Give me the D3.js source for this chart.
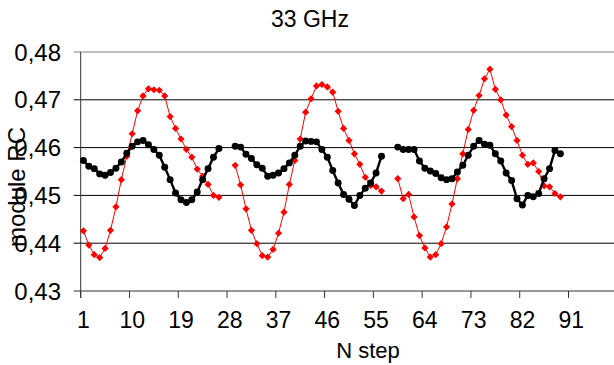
<!DOCTYPE html>
<html>
<head>
<meta charset="utf-8">
<script src="https://cdn.jsdelivr.net/npm/d3@7"></script>
<style>
    body { margin: 0; background: #fff; }
    text { font-family: "Liberation Sans", Arial, sans-serif; fill: #000; }
</style>
</head>
<body>
<script>
// Category labels shown under the x axis (every 9th step)
const X_TICK_LABELS = [1, 10, 19, 28, 37, 46, 55, 64, 73, 82, 91];
const Y_TICK_VALUES = [0.43, 0.44, 0.45, 0.46, 0.47, 0.48];
const CATEGORY_COUNT = 99;

// Red series (diamonds), steps 1..89, null = gap
const RED_VALUES = [
    0.4426, 0.4396, 0.4376, 0.4370, 0.4389, 0.4427, 0.4476, 0.4533, 0.4582, 0.4629,
    0.4677, 0.4708, 0.4723, 0.4721, 0.4720, 0.4708, 0.4665, 0.4640, 0.4618, 0.4596,
    0.4580, 0.4555, 0.4540, 0.4523, 0.4500, 0.4496, null, null,
    0.4563, 0.4522, 0.4472, 0.4427, 0.4399, 0.4374, 0.4371, 0.4387, 0.4421, 0.4465,
    0.4523, 0.4573, 0.4618, 0.4674, 0.4702, 0.4729, 0.4732, 0.4727, 0.4716, 0.4676,
    0.4640, 0.4615, 0.4587, 0.4565, 0.4538, 0.4521, 0.4518, 0.4509, null, null,
    0.4535, 0.4493, 0.4502, 0.4455, 0.4416, 0.4390, 0.4371, 0.4376, 0.4399, 0.4434,
    0.4482, 0.4535, 0.4587, 0.4638, 0.4678, 0.4709, 0.4744, 0.4764, 0.4722, 0.4700,
    0.4668, 0.4644, 0.4615, 0.4584, 0.4565, 0.4568, 0.4550, 0.4520, 0.4518, 0.4504,
    0.4497
];

// Black series (circles), steps 1..89, null = gap
const BLACK_VALUES = [
    0.4573, 0.4561, 0.4556, 0.4545, 0.4542, 0.4548, 0.4557, 0.4570, 0.4588, 0.4603,
    0.4612, 0.4615, 0.4606, 0.4596, 0.4584, 0.4559, 0.4533, 0.4505, 0.4491, 0.4485,
    0.4491, 0.4507, 0.4533, 0.4556, 0.4580, 0.4598, null, null,
    0.4603, 0.4601, 0.4586, 0.4577, 0.4564, 0.4557, 0.4540, 0.4542, 0.4547, 0.4556,
    0.4568, 0.4584, 0.4603, 0.4614, 0.4613, 0.4612, 0.4596, 0.4580, 0.4552, 0.4526,
    0.4502, 0.4492, 0.4479, 0.4500, 0.4515, 0.4526, 0.4547, 0.4582, null, null,
    0.4601, 0.4596, 0.4596, 0.4596, 0.4572, 0.4557, 0.4551, 0.4546, 0.4537, 0.4533,
    0.4535, 0.4549, 0.4563, 0.4584, 0.4603, 0.4615, 0.4607, 0.4605, 0.4587, 0.4572,
    0.4547, 0.4531, 0.4493, 0.4480, 0.4500, 0.4497, 0.4504, 0.4535, 0.4556, 0.4594,
    0.4587
];

const WIDTH = 614;
const HEIGHT = 365;

const PLOT_LEFT = 80.7;
const STEP_WIDTH = 5.42;
const PLOT_TOP = 52;
const PLOT_BOTTOM = 291;
const TICK_SIZE = 7;

const svg = d3.select("body").append("svg")
    .attr("width", WIDTH)
    .attr("height", HEIGHT);

const categories = d3.range(1, CATEGORY_COUNT + 1);

// Excel style category axis: points sit in the middle of each category
const xScale = d3.scaleBand()
    .domain(categories)
    .range([PLOT_LEFT, PLOT_LEFT + CATEGORY_COUNT * STEP_WIDTH])
    .padding(0);

const yScale = d3.scaleLinear()
    .domain([0.43, 0.48])
    .range([PLOT_BOTTOM, PLOT_TOP]);

const xCenter = step => xScale(step) + xScale.bandwidth() / 2;
const formatY = v => d3.format(".2f")(v).replace(".", ",");

// Gridlines
svg.append("g")
    .selectAll("line")
    .data(Y_TICK_VALUES.filter(v => v > 0.43))
    .join("line")
    .attr("x1", PLOT_LEFT - TICK_SIZE)
    .attr("x2", WIDTH)
    .attr("y1", v => yScale(v))
    .attr("y2", v => yScale(v))
    .attr("stroke", v => v === 0.48 ? "#808080" : "#000")
    .attr("stroke-width", 1);

// Y axis
svg.append("line")
    .attr("x1", PLOT_LEFT).attr("x2", PLOT_LEFT)
    .attr("y1", PLOT_TOP).attr("y2", PLOT_BOTTOM + TICK_SIZE)
    .attr("stroke", "#333");

svg.append("g")
    .selectAll("text")
    .data(Y_TICK_VALUES)
    .join("text")
    .attr("x", 61)
    .attr("y", v => yScale(v) + 8.5)
    .attr("text-anchor", "end")
    .style("font-size", "24px")
    .text(formatY);

// X axis
svg.append("line")
    .attr("x1", PLOT_LEFT - TICK_SIZE).attr("x2", WIDTH)
    .attr("y1", PLOT_BOTTOM).attr("y2", PLOT_BOTTOM)
    .attr("stroke", "#333");

svg.append("g")
    .selectAll("line")
    .data(X_TICK_LABELS)
    .join("line")
    .attr("x1", d => xScale(d))
    .attr("x2", d => xScale(d))
    .attr("y1", PLOT_BOTTOM)
    .attr("y2", PLOT_BOTTOM + TICK_SIZE)
    .attr("stroke", "#333");

svg.append("g")
    .selectAll("text")
    .data(X_TICK_LABELS)
    .join("text")
    .attr("x", d => xCenter(d))
    .attr("y", 328)
    .attr("text-anchor", "middle")
    .style("font-size", "23px")
    .text(d => d);

// Series
function drawSeries(values, color, lineWidth, symbol, symbolSize) {
    const points = values.map((v, i) => ({ step: i + 1, value: v }));
    const line = d3.line()
        .defined(d => d.value !== null)
        .x(d => xCenter(d.step))
        .y(d => yScale(d.value));

    svg.append("path")
        .datum(points)
        .attr("fill", "none")
        .attr("stroke", color)
        .attr("stroke-width", lineWidth)
        .attr("d", line);

    svg.append("g")
        .selectAll("path")
        .data(points.filter(d => d.value !== null))
        .join("path")
        .attr("transform", d => `translate(${xCenter(d.step)},${yScale(d.value)})${symbol === d3.symbolSquare ? " rotate(45)" : ""}`)
        .attr("d", d3.symbol(symbol, symbolSize))
        .attr("fill", color);
}

drawSeries(RED_VALUES, "#ff0000", 1, d3.symbolSquare, 26);
drawSeries(BLACK_VALUES, "#000000", 2.4, d3.symbolCircle, 38);

// Titles
svg.append("text")
    .attr("x", 310)
    .attr("y", 27)
    .attr("text-anchor", "middle")
    .style("font-size", "23px")
    .text("33 GHz");

svg.append("text")
    .attr("x", 368)
    .attr("y", 358)
    .attr("text-anchor", "middle")
    .style("font-size", "22px")
    .text("N step");

svg.append("text")
    .attr("transform", "translate(25,187) rotate(-90)")
    .attr("text-anchor", "middle")
    .style("font-size", "24px")
    .text("module RC");
</script>
</body>
</html>
